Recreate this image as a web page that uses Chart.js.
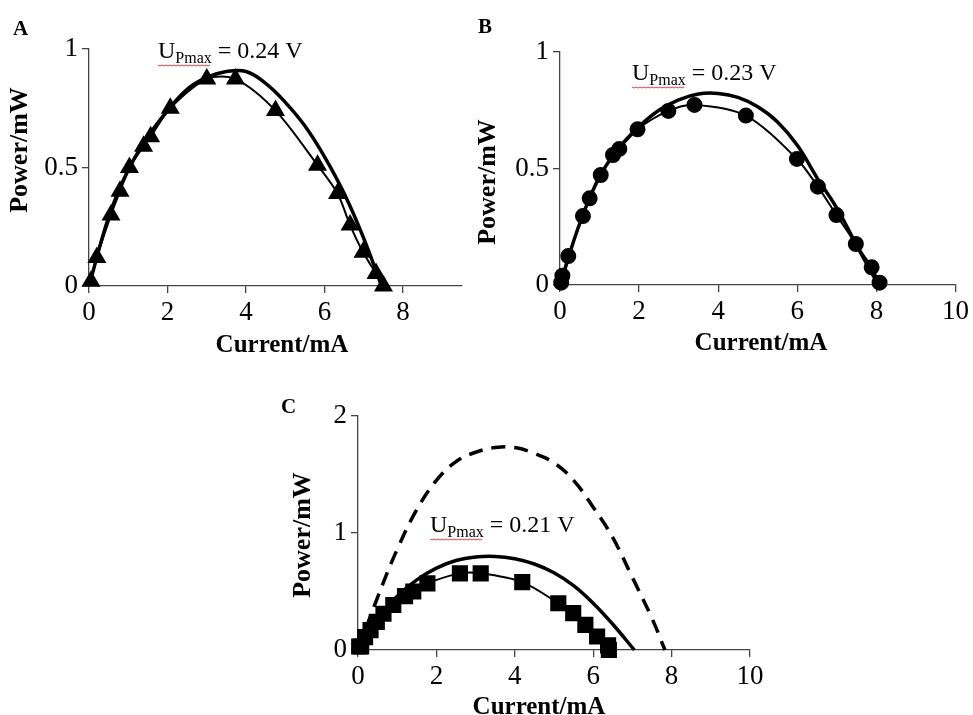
<!DOCTYPE html>
<html lang="en">
<head>
    <meta charset="UTF-8">
    <title>Power vs Current</title>
    <script src="https://cdn.jsdelivr.net/npm/chart.js"></script>
    <style>
        body { margin: 0; background: white; width: 973px; height: 715px; overflow: hidden; }
        .panel { position: absolute; }
    </style>
</head>
<body>
    <div class="panel" id="boxA" style="left:0px; top:0px; width:480px; height:370px;"><canvas id="chartA"></canvas></div>
    <div class="panel" id="boxB" style="left:470px; top:0px; width:503px; height:370px;"><canvas id="chartB"></canvas></div>
    <div class="panel" id="boxC" style="left:270px; top:380px; width:503px; height:335px;"><canvas id="chartC"></canvas></div>
    <script>
        // panel A - measured points (triangles) and fitted curve
        const aCurrent = [0.05, 0.2, 0.56, 0.79, 1.03, 1.39, 1.57, 2.07, 3.0, 3.73, 4.75, 5.82, 6.33, 6.65, 6.98, 7.31, 7.5];
        const aPower = [0.02, 0.12, 0.30, 0.40, 0.50, 0.59, 0.63, 0.75, 0.873, 0.873, 0.74, 0.51, 0.39, 0.257, 0.142, 0.053, 0.0];
        const aFitCurrent = [0, 0.5, 1, 1.5, 2, 2.5, 3, 3.5, 4, 4.5, 5, 5.5, 6, 6.5, 7, 7.45];
        const aFitPower = [0, 0.29, 0.49, 0.63, 0.74, 0.83, 0.88, 0.905, 0.905, 0.855, 0.775, 0.675, 0.545, 0.39, 0.2, 0];

        // panel B - circles
        const bCurrent = [0.03, 0.06, 0.21, 0.58, 0.75, 1.03, 1.34, 1.5, 1.96, 2.74, 3.4, 4.7, 5.99, 6.52, 6.99, 7.48, 7.88, 8.08];
        const bPower = [0.01, 0.04, 0.124, 0.296, 0.372, 0.472, 0.558, 0.584, 0.668, 0.747, 0.773, 0.727, 0.541, 0.422, 0.30, 0.176, 0.076, 0.01];
        const bFitCurrent = [0, 0.5, 1, 1.5, 2, 2.5, 3, 3.5, 4, 4.5, 5, 5.5, 6, 6.5, 7, 7.5, 8.05];
        const bFitPower = [0, 0.265, 0.465, 0.59, 0.68, 0.75, 0.795, 0.82, 0.822, 0.805, 0.765, 0.70, 0.60, 0.46, 0.33, 0.17, 0];

        // panel C - squares, fitted curve and dashed curve
        const cCurrent = [0.03, 0.08, 0.18, 0.32, 0.48, 0.65, 0.9, 1.2, 1.41, 1.77, 2.6, 3.13, 4.19, 5.11, 5.49, 5.8, 6.1, 6.38, 6.4];
        const cPower = [0.03, 0.03, 0.11, 0.17, 0.24, 0.31, 0.385, 0.46, 0.50, 0.57, 0.655, 0.655, 0.58, 0.40, 0.315, 0.215, 0.115, 0.04, 0.0];
        const cFitCurrent = [0, 0.5, 1, 1.5, 2, 2.5, 3, 3.5, 4, 4.5, 5, 5.5, 6, 6.5, 7.05];
        const cFitPower = [0, 0.27, 0.46, 0.6, 0.7, 0.765, 0.795, 0.80, 0.78, 0.735, 0.66, 0.55, 0.40, 0.22, 0];
        const cDashCurrent = [0, 0.5, 1, 1.5, 2, 2.5, 3, 3.5, 4, 4.5, 5, 5.5, 6, 6.5, 7, 7.5, 7.83];
        const cDashPower = [0, 0.45, 0.86, 1.2, 1.45, 1.61, 1.69, 1.73, 1.73, 1.68, 1.6, 1.45, 1.22, 0.96, 0.62, 0.27, 0];

        const xTicksA = [0, 2, 4, 6, 8];
        const upmaxA = '0.24', upmaxB = '0.23', upmaxC = '0.21';

        const SERIF = '"Liberation Serif", "Times New Roman", serif';
        const AXIS = '#444';

        function pts(xs, ys) {
            return xs.map((x, i) => ({ x: x, y: ys[i] }));
        }

        // draws panel letter, axis titles and the U_Pmax note (page coords -> canvas coords)
        function textPlugin(offX, offY, t) {
            return {
                id: 'texts',
                afterDraw(chart) {
                    const ctx = chart.ctx;
                    ctx.save();
                    ctx.fillStyle = '#000';
                    ctx.textBaseline = 'alphabetic';
                    ctx.font = 'bold 21px ' + SERIF;
                    ctx.textAlign = 'left';
                    ctx.fillText(t.letter, t.letterX - offX, t.letterY - offY);

                    ctx.font = 'bold 25px ' + SERIF;
                    ctx.textAlign = 'center';
                    ctx.fillText('Current/mA', t.xtX - offX, t.xtY - offY);

                    ctx.save();
                    ctx.translate(t.ytX - offX, t.ytY - offY);
                    ctx.rotate(-Math.PI / 2);
                    ctx.textBaseline = 'middle';
                    ctx.font = 'bold 26px ' + SERIF;
                    ctx.fillText('Power/mW', 0, 0);
                    ctx.restore();

                    // U_Pmax = ... V
                    let x = t.uX - offX, y = t.uY - offY;
                    ctx.textAlign = 'left';
                    ctx.font = '24px ' + SERIF;
                    ctx.fillText('U', x, y);
                    const x0 = x;
                    x += ctx.measureText('U').width;
                    ctx.font = '16px ' + SERIF;
                    ctx.fillText('Pmax', x, y + 5);
                    x += ctx.measureText('Pmax').width;
                    const x1 = x;
                    ctx.font = '24px ' + SERIF;
                    ctx.fillText(' = ' + t.value + ' V', x, y);

                    // red spell-check squiggle
                    ctx.strokeStyle = '#d84040';
                    ctx.lineWidth = 1;
                    ctx.beginPath();
                    for (let sx = x0; sx <= x1; sx += 2) {
                        const sy = y + 7 + ((sx - x0) % 4 === 0 ? 0 : 1);
                        if (sx === x0) ctx.moveTo(sx, sy); else ctx.lineTo(sx, sy);
                    }
                    ctx.stroke();
                    ctx.restore();
                }
            };
        }

        function makeChart(id, cfg) {
            const scaleBase = {
                type: 'linear',
                border: { display: true, color: AXIS, width: 1.3 },
                grid: { display: true, drawOnChartArea: false, drawTicks: true, tickLength: 7, tickColor: AXIS, lineWidth: 1.3 },
                ticks: { color: '#000', font: { family: SERIF, size: 27 }, padding: 4 }
            };
            const datasets = cfg.datasets.map(d => Object.assign({
                showLine: true,
                fill: false,
                clip: false,
                borderColor: '#000',
                backgroundColor: '#000',
                pointRadius: 0,
                tension: 0.4
            }, d));

            return new Chart(document.getElementById(id), {
                type: 'scatter',
                data: { datasets: datasets },
                plugins: [textPlugin(cfg.offX, cfg.offY, cfg.texts)],
                options: {
                    responsive: true,
                    maintainAspectRatio: false,
                    animation: false,
                    layout: { padding: { top: cfg.padTop, right: cfg.padRight, left: 0, bottom: 0 } },
                    plugins: { legend: { display: false }, tooltip: { enabled: false } },
                    scales: {
                        x: Object.assign({}, scaleBase, {
                            min: 0, max: cfg.xMax,
                            ticks: Object.assign({}, scaleBase.ticks, { stepSize: 2, maxRotation: 0, padding: 4 }),
                            afterBuildTicks: cfg.xTicks ? (s) => { s.ticks = cfg.xTicks.map(v => ({ value: v })); } : undefined,
                            afterFit: (s) => { s.height = cfg.xHeight; }
                        }),
                        y: Object.assign({}, scaleBase, {
                            min: 0, max: cfg.yMax,
                            ticks: Object.assign({}, scaleBase.ticks, { stepSize: cfg.yStep, callback: (v) => String(v) }),
                            afterFit: (s) => { s.width = cfg.yWidth; }
                        })
                    }
                }
            });
        }

        makeChart('chartA', {
            offX: 0, offY: 0, padTop: 49, padRight: 18, yWidth: 89, xHeight: 84,
            xMax: 9.5, xTicks: xTicksA, yMax: 1, yStep: 0.5,
            texts: { letter: 'A', letterX: 13, letterY: 35, xtX: 282, xtY: 352, ytX: 20, ytY: 150, uX: 158, uY: 58, value: upmaxA },
            datasets: [
                { data: pts(aFitCurrent, aFitPower), borderWidth: 3.5 },
                { data: pts(aCurrent, aPower), borderWidth: 2, tension: 0.3, pointStyle: 'triangle', pointRadius: 9 }
            ]
        });

        makeChart('chartB', {
            offX: 470, offY: 0, padTop: 52, padRight: 15, yWidth: 90, xHeight: 85,
            xMax: 10, yMax: 1, yStep: 0.5,
            texts: { letter: 'B', letterX: 478, letterY: 33, xtX: 761, xtY: 350, ytX: 488, ytY: 182, uX: 632, uY: 80, value: upmaxB },
            datasets: [
                { data: pts(bFitCurrent, bFitPower), borderWidth: 3.5 },
                { data: pts(bCurrent, bPower), borderWidth: 2, tension: 0.3, pointStyle: 'circle', pointRadius: 7 }
            ]
        });

        makeChart('chartC', {
            offX: 270, offY: 380, padTop: 36, padRight: 23, yWidth: 88, xHeight: 65,
            xMax: 10, yMax: 2, yStep: 1,
            texts: { letter: 'C', letterX: 281, letterY: 413, xtX: 539, xtY: 714, ytX: 303, ytY: 535, uX: 430, uY: 532, value: upmaxC },
            datasets: [
                { data: pts(cDashCurrent, cDashPower), borderWidth: 3.5, borderDash: [14, 9] },
                { data: pts(cFitCurrent, cFitPower), borderWidth: 3.5 },
                { data: pts(cCurrent, cPower), borderWidth: 2, tension: 0.3, pointStyle: 'rect', pointRadius: 10 }
            ]
        });
    </script>
</body>
</html>
